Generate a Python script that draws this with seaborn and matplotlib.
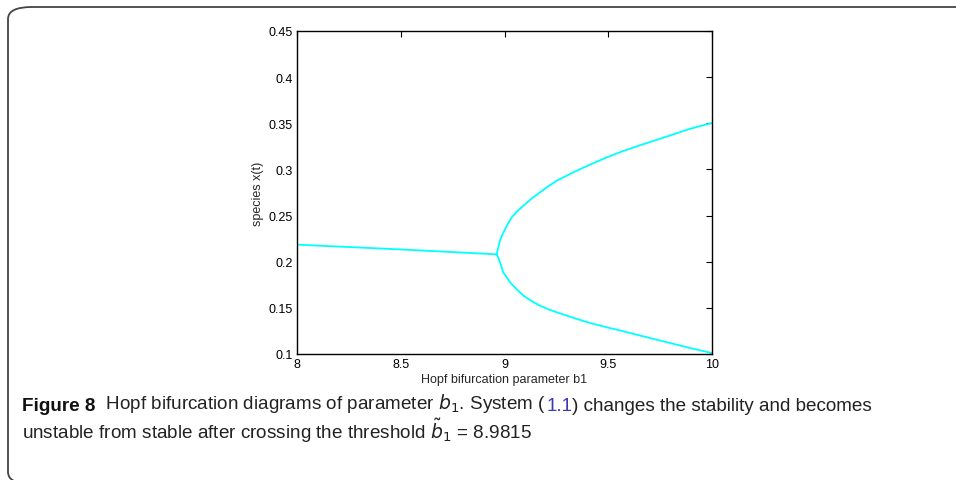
import pandas as pd
import matplotlib.pyplot as plt
import seaborn as sns
from matplotlib.patches import FancyBboxPatch

# Values
stable_b1 = [8.0, 8.5, 8.962]
stable_x = [0.2185, 0.2133, 0.2080]

upper_b1 = [8.962, 8.970, 8.978, 8.991, 9.011, 9.035, 9.059, 9.091, 9.131, 9.171, 9.211,
            9.252, 9.332, 9.412, 9.492, 9.573, 9.653, 9.733, 9.814, 9.894, 10.0]
upper_x = [0.2080, 0.2156, 0.2228, 0.2300, 0.2390, 0.2481, 0.2542, 0.2607, 0.2685, 0.2752, 0.2818,
           0.2878, 0.2969, 0.3052, 0.3130, 0.3200, 0.3262, 0.3320, 0.3380, 0.3440, 0.3503]

lower_b1 = [8.962, 8.970, 8.978, 8.994, 9.027, 9.059, 9.091, 9.131, 9.171, 9.211, 9.252,
            9.332, 9.412, 9.492, 9.573, 9.653, 9.733, 9.814, 9.894, 10.0]
lower_x = [0.2080, 0.2045, 0.1994, 0.1885, 0.1777, 0.1700, 0.1632, 0.1573, 0.1523, 0.1485, 0.1452,
           0.1392, 0.1336, 0.1290, 0.1246, 0.1200, 0.1155, 0.1110, 0.1065, 0.1010]

x_ticks = [8, 8.5, 9, 9.5, 10]
x_tick_labels = ['8', '8.5', '9', '9.5', '10']
y_ticks = [0.1, 0.15, 0.2, 0.25, 0.3, 0.35, 0.4, 0.45]
y_tick_labels = ['0.1', '0.15', '0.2', '0.25', '0.3', '0.35', '0.4', '0.45']

sns.set_style('white')
plt.rcParams['font.family'] = ['Liberation Sans', 'DejaVu Sans']
plt.rcParams['mathtext.fontset'] = 'dejavusans'

fig = plt.figure(figsize=(9.56, 4.81), dpi=100)

# rounded frame around figure + caption (bottom/right run off the image)
frame = FancyBboxPatch((8 / 956, -4 / 481), 1.2, 477 / 481,
                       boxstyle='round,pad=0,rounding_size=0.025',
                       transform=fig.transFigure, fill=False,
                       edgecolor='#444444', linewidth=1.3, clip_on=False)
fig.patches.append(frame)

ax = fig.add_axes([297 / 956, 1 - 355 / 481, 415 / 956, 323 / 481])

branches = [
    pd.DataFrame({'b1': stable_b1, 'x': stable_x}),
    pd.DataFrame({'b1': upper_b1, 'x': upper_x}),
    pd.DataFrame({'b1': lower_b1, 'x': lower_x}),
]
for df in branches:
    sns.lineplot(data=df, x='b1', y='x', ax=ax, color='#00ffff', linewidth=1.3,
                 sort=False, estimator=None)

ax.set_xlim(8, 10)
ax.set_ylim(0.1, 0.45)
ax.set_xticks(x_ticks)
ax.set_xticklabels(x_tick_labels)
ax.set_yticks(y_ticks)
ax.set_yticklabels(y_tick_labels)
ax.tick_params(direction='in', top=True, right=True, length=4, width=0.8,
               labelsize=9, pad=3, colors='black')
for s in ax.spines.values():
    s.set_color('black')
    s.set_linewidth(1.0)
ax.set_xlabel('Hopf bifurcation parameter b1', fontsize=9, labelpad=2)
ax.set_ylabel('species x(t)', fontsize=9, labelpad=3)

# caption, pieces chained left to right so "1.1" can be blue
cap = dict(fontsize=13.6, family=['Liberation Sans Narrow', 'Liberation Sans', 'DejaVu Sans'])
prev = fig.text(22 / 956, 1 - 411 / 481, 'Figure 8', fontweight='bold',
                va='baseline', color='#111111', **cap)
parts = [
    ('  Hopf bifurcation diagrams of parameter $b_1$. System (', '#222222'),
    ('1.1', '#3a3ab8'),
    (') changes the stability and becomes', '#222222'),
]
for txt, col in parts:
    prev = fig.add_artist(plt.Annotation(txt, xy=(1, 0), xycoords=prev,
                                         va='bottom', ha='left', color=col, **cap))
fig.text(22 / 956, 1 - 439 / 481,
         r'unstable from stable after crossing the threshold $\tilde{b}_1$ = 8.9815',
         va='baseline', color='#222222', **cap)

fig.savefig('out.png', dpi=100)
